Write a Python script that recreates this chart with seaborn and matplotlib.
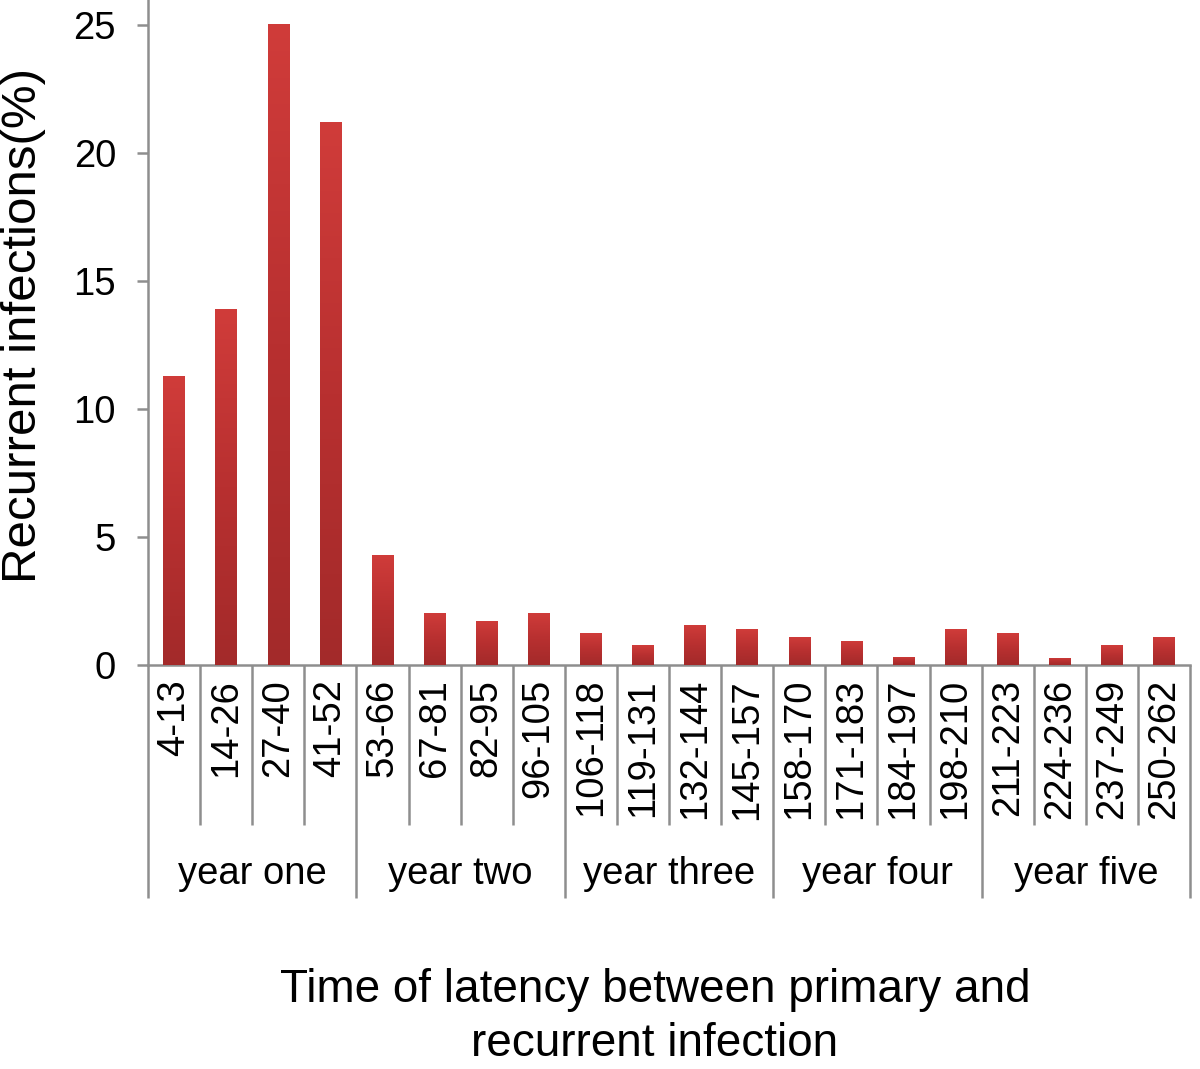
import numpy as np
import pandas as pd
import matplotlib
matplotlib.use("Agg")
import matplotlib.pyplot as plt
import matplotlib.transforms as mtransforms
from matplotlib.colors import LinearSegmentedColormap
import seaborn as sns

categories = ["4-13", "14-26", "27-40", "41-52", "53-66", "67-81", "82-95", "96-105",
              "106-118", "119-131", "132-144", "145-157", "158-170", "171-183", "184-197",
              "198-210", "211-223", "224-236", "237-249", "250-262"]
values = [11.3, 13.9, 25.05, 21.2, 4.3, 2.05, 1.72, 2.05,
          1.25, 0.78, 1.57, 1.4, 1.1, 0.95, 0.32, 1.4,
          1.25, 0.28, 0.78, 1.1]
groups = ["year one", "year two", "year three", "year four", "year five"]
group_size = 4
y_ticks = [0, 5, 10, 15, 20, 25]

sns.set_style("white")
plt.rcParams["font.family"] = ["Liberation Sans", "DejaVu Sans"]
plt.rcParams["text.color"] = "black"
plt.rcParams["axes.labelcolor"] = "black"
plt.rcParams["xtick.color"] = "black"
plt.rcParams["ytick.color"] = "black"

df = pd.DataFrame({"cat": categories, "val": values})

fig = plt.figure(figsize=(12, 10.69), dpi=100)
ax = fig.add_axes([148 / 1200, 1 - 665 / 1069, (1190 - 148) / 1200, 665 / 1069])

sns.barplot(data=df, x="cat", y="val", color="#c03434", width=0.41, ax=ax,
            saturation=1, linewidth=0)

ax.set_xlim(-0.5, len(categories) - 0.5)
ax.set_ylim(0, 25.98)

# vertical gradient on each bar
cmap = LinearSegmentedColormap.from_list("barg", ["#a32a2a", "#b83030", "#d03c3a"])
grad = np.linspace(0, 1, 256).reshape(-1, 1)
for p in list(ax.patches):
    x0, y0 = p.get_x(), p.get_y()
    w, h = p.get_width(), p.get_height()
    im = ax.imshow(grad, extent=[x0, x0 + w, y0, y0 + h], origin="lower",
                   aspect="auto", cmap=cmap, zorder=3, interpolation="bilinear")
    im.set_clip_path(p)
ax.set_xlim(-0.5, len(categories) - 0.5)
ax.set_ylim(0, 25.98)

axis_col = "#8e8e8e"
for s in ["top", "right"]:
    ax.spines[s].set_visible(False)
for s in ["left", "bottom"]:
    ax.spines[s].set_color(axis_col)
    ax.spines[s].set_linewidth(1.8)

ax.set_yticks(y_ticks)
ax.set_yticklabels([str(t) for t in y_ticks], fontsize=27.5)
ax.tick_params(axis="y", direction="out", length=8, width=1.8, color=axis_col, pad=15,
               left=True, labelcolor="black")
ax.tick_params(axis="x", length=0, pad=10, labelsize=27.5, labelrotation=90,
               labelcolor="black")
for lab in ax.get_xticklabels():
    lab.set_va("top")

ax.set_xlabel("")
ax.set_ylabel("Recurrent infections(%)", fontsize=35.5)
ax.yaxis.set_label_coords((46 - 148) / 1042, 0.511)

# category separators
trans = mtransforms.blended_transform_factory(ax.transData, ax.transAxes)
n = len(categories)
short_bot = -(825 - 665) / 665
long_bot = -(898 - 665) / 665
for i in range(n + 1):
    xb = i - 0.5
    bot = long_bot if i % group_size == 0 else short_bot
    ax.plot([xb, xb], [0, bot], transform=trans, color=axis_col, lw=1.8,
            clip_on=False, solid_capstyle="butt")

# group labels
for g, name in enumerate(groups):
    xc = g * group_size + (group_size - 1) / 2
    ax.text(xc, -(874 - 665) / 665, name, transform=trans, ha="center", va="center",
            fontsize=27.5, color="black")

fig.text(655 / 1200, 1 - 1017 / 1069,
         "Time of latency between primary and\nrecurrent infection",
         ha="center", va="center", fontsize=33, linespacing=1.32, color="black")

fig.savefig("out.png", dpi=100)
